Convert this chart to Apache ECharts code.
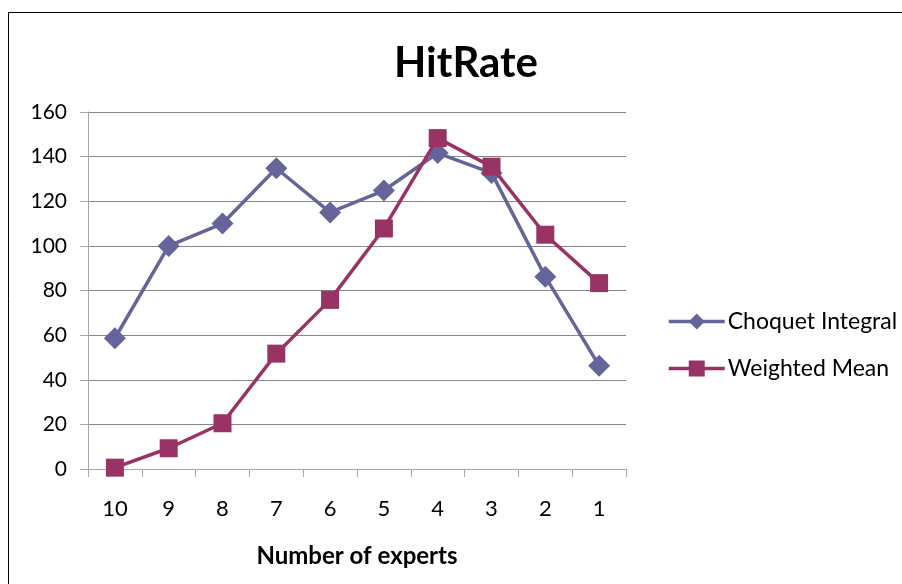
<!DOCTYPE html>
<html>
<head>
<meta charset="utf-8">
<script src="https://cdn.jsdelivr.net/npm/echarts@6/dist/echarts.min.js"></script>
<style>
  html, body { margin: 0; padding: 0; background: #fff; }
  #chart { width: 902px; height: 584px; }
</style>
</head>
<body>
<div id="chart"></div>
<script>
// Number of experts, from 10 down to 1
const experts = ['10', '9', '8', '7', '6', '5', '4', '3', '2', '1'];
const choquetIntegral = [58.6, 100, 110, 134.8, 115, 124.8, 141.6, 132.7, 86.2, 46.3];
const weightedMean = [0.6, 9.3, 20.5, 51.7, 75.8, 107.8, 148.3, 135.5, 105, 83.3];
const yTicks = { min: 0, max: 160, step: 20 };

const FONT = 'Lato, "Open Sans", sans-serif';
const chart = echarts.init(document.getElementById('chart'), null, { renderer: 'canvas' });

chart.setOption({
  backgroundColor: '#ffffff',
  animation: false,
  graphic: [{
    type: 'rect',
    shape: { x: 8.5, y: 12.5, width: 1000, height: 1000 },
    style: { fill: 'none', stroke: '#000', lineWidth: 1 },
    silent: true,
    z: 0
  }],
  title: {
    text: 'HitRate',
    left: 461,
    top: 37,
    textAlign: 'center',
    textStyle: { fontFamily: FONT, fontSize: 42, fontWeight: 'bold', color: '#000' }
  },
  legend: {
    orient: 'vertical',
    left: 662,
    top: 305,
    itemWidth: 56,
    itemHeight: 20,
    itemGap: 24,
    lineStyle: { width: 3.5 },
    textStyle: { fontFamily: FONT, fontSize: 23, color: '#000', padding: [0, 0, 0, -2] },
    data: [
      { name: 'Choquet Integral', lineStyle: { width: 3.5 } },
      { name: 'Weighted Mean', lineStyle: { width: 3.5 } }
    ]
  },
  grid: { left: 88, right: 276, top: 112, bottom: 115, containLabel: false },
  xAxis: {
    type: 'category',
    data: experts,
    boundaryGap: true,
    name: 'Number of experts',
    nameLocation: 'middle',
    nameGap: 75,
    nameTextStyle: { fontFamily: FONT, fontSize: 24, fontWeight: 'bold', color: '#000' },
    axisLine: { lineStyle: { color: '#a6a6a6', width: 1 } },
    axisTick: { show: true, length: 8, interval: 0, lineStyle: { color: '#a6a6a6' } },
    axisLabel: { fontFamily: FONT, fontSize: 22, color: '#000', margin: 29, interval: 0 },
    splitLine: { show: false }
  },
  yAxis: {
    type: 'value',
    min: yTicks.min,
    max: yTicks.max,
    interval: yTicks.step,
    axisLine: { show: true, lineStyle: { color: '#a6a6a6', width: 1 } },
    axisTick: { show: true, length: 8, lineStyle: { color: '#a6a6a6' } },
    axisLabel: { fontFamily: FONT, fontSize: 21, color: '#000', margin: 21 },
    splitLine: { show: true, lineStyle: { color: '#868686', width: 1 } }
  },
  series: [
    {
      name: 'Choquet Integral',
      type: 'line',
      data: choquetIntegral,
      symbol: 'diamond',
      symbolSize: 22,
      itemStyle: { color: '#65659b' },
      lineStyle: { color: '#65659b', width: 3.5 },
      z: 3
    },
    {
      name: 'Weighted Mean',
      type: 'line',
      data: weightedMean,
      symbol: 'rect',
      symbolSize: 18,
      itemStyle: { color: '#993366' },
      lineStyle: { color: '#993366', width: 3.5 },
      z: 4
    }
  ]
});
</script>
</body>
</html>
